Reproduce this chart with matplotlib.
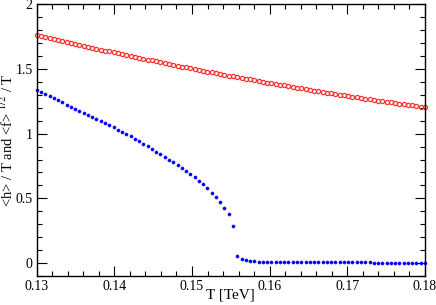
import matplotlib
matplotlib.use('Agg')
import matplotlib.pyplot as plt
from matplotlib.ticker import MultipleLocator

plt.rcParams['font.family'] = ['Liberation Serif', 'DejaVu Serif']
plt.rcParams['mathtext.fontset'] = 'stix'

# temperature grid [TeV]
T = [0.13000, 0.13055, 0.13110, 0.13165, 0.13220, 0.13275, 0.13330, 0.13385,
     0.13440, 0.13495, 0.13549, 0.13604, 0.13659, 0.13714, 0.13769, 0.13824,
     0.13879, 0.13934, 0.13989, 0.14044, 0.14099, 0.14154, 0.14209, 0.14264,
     0.14319, 0.14374, 0.14429, 0.14484, 0.14538, 0.14593, 0.14648, 0.14703,
     0.14758, 0.14813, 0.14868, 0.14923, 0.14978, 0.15033, 0.15088, 0.15143,
     0.15198, 0.15253, 0.15308, 0.15363, 0.15418, 0.15473, 0.15527, 0.15582,
     0.15637, 0.15692, 0.15747, 0.15802, 0.15857, 0.15912, 0.15967, 0.16022,
     0.16077, 0.16132, 0.16187, 0.16242, 0.16297, 0.16352, 0.16407, 0.16462,
     0.16516, 0.16571, 0.16626, 0.16681, 0.16736, 0.16791, 0.16846, 0.16901,
     0.16956, 0.17011, 0.17066, 0.17121, 0.17176, 0.17231, 0.17286, 0.17341,
     0.17396, 0.17451, 0.17505, 0.17560, 0.17615, 0.17670, 0.17725, 0.17780,
     0.17835, 0.17890, 0.17945, 0.18000]

# <f>^{1/2} / T  (red open circles)
f_sqrt = [1.7620, 1.7543, 1.7465, 1.7389, 1.7312, 1.7236, 1.7161, 1.7085,
          1.7010, 1.6936, 1.6862, 1.6788, 1.6714, 1.6641, 1.6568, 1.6496,
          1.6424, 1.6352, 1.6281, 1.6210, 1.6139, 1.6069, 1.5999, 1.5930,
          1.5861, 1.5792, 1.5723, 1.5655, 1.5587, 1.5520, 1.5453, 1.5386,
          1.5320, 1.5254, 1.5189, 1.5123, 1.5059, 1.4994, 1.4930, 1.4866,
          1.4803, 1.4740, 1.4677, 1.4615, 1.4553, 1.4491, 1.4430, 1.4369,
          1.4308, 1.4248, 1.4189, 1.4129, 1.4070, 1.4011, 1.3953, 1.3895,
          1.3837, 1.3780, 1.3723, 1.3666, 1.3610, 1.3554, 1.3499, 1.3444,
          1.3389, 1.3335, 1.3281, 1.3227, 1.3173, 1.3121, 1.3068, 1.3016,
          1.2964, 1.2912, 1.2861, 1.2810, 1.2760, 1.2710, 1.2660, 1.2611,
          1.2562, 1.2513, 1.2465, 1.2417, 1.2369, 1.2322, 1.2275, 1.2229,
          1.2182, 1.2137, 1.2091, 1.2046]

# <h> / T  (blue dots)
h = [1.336, 1.319, 1.303, 1.288, 1.272, 1.257, 1.241, 1.225,
     1.210, 1.194, 1.179, 1.163, 1.147, 1.131, 1.115, 1.099,
     1.082, 1.066, 1.049, 1.032, 1.015, 0.998, 0.980, 0.961,
     0.941, 0.922, 0.902, 0.882, 0.862, 0.842, 0.821, 0.800,
     0.779, 0.757, 0.735, 0.712, 0.688, 0.663, 0.637, 0.608,
     0.577, 0.545, 0.511, 0.473, 0.429, 0.377, 0.287, 0.054,
     0.031, 0.021, 0.016, 0.013, 0.011, 0.010, 0.009, 0.0085,
     0.0080, 0.0078, 0.0076, 0.0074, 0.0072, 0.0070, 0.0068, 0.0067,
     0.0066, 0.0064, 0.0063, 0.0062, 0.0060, 0.0059, 0.0058, 0.0057,
     0.0055, 0.0054, 0.0053, 0.0051, 0.0050, 0.0048, 0.0047, 0.0045,
     0.0044, 0.0042, 0.0040, 0.0038, 0.0036, 0.0034, 0.0032, 0.0030,
     0.0028, 0.0026, 0.0024, 0.0022]

fig = plt.figure(figsize=(4.36, 3.05), dpi=100)
ax = fig.add_axes([0.0842, 0.095, 0.8906, 0.891])

ax.plot(T, f_sqrt, linestyle='none', marker='o', markersize=3.0,
        markerfacecolor='none', markeredgecolor='#ff3030', markeredgewidth=0.9,
        clip_on=False)
ax.plot(T, h, linestyle='none', marker='o', markersize=2.3,
        markerfacecolor='#0000ff', markeredgecolor='#0000ff', markeredgewidth=0.3,
        clip_on=False)

ax.set_xlim(0.13, 0.18)
ax.set_ylim(-0.1, 2.0)
ax.xaxis.set_minor_locator(MultipleLocator(0.002))
ax.yaxis.set_minor_locator(MultipleLocator(0.1))
ax.set_xticks([0.13, 0.14, 0.15, 0.16, 0.17, 0.18])
ax.set_xticklabels(['0.13', '0.14', '0.15', '0.16', '0.17', '0.18'])
ax.set_yticks([0, 0.5, 1, 1.5, 2])
ax.set_yticklabels(['0', '0.5', '1', '1.5', '2'])

ax.tick_params(which='both', direction='in', top=True, right=True,
               labelsize=10, width=0.8, pad=3)
ax.tick_params(which='major', length=7)
ax.tick_params(which='minor', length=3.5)
for s in ax.spines.values():
    s.set_linewidth(1.0)

ax.set_xlabel('T [TeV]', fontsize=11)
ax.set_ylabel(r'<h> / T and <f> $^{1/2}$ / T', fontsize=10.5)
ax.xaxis.set_label_coords(0.5, -0.046)
ax.yaxis.set_label_coords(-0.053, 0.5)

fig.savefig('out.png', dpi=100)
